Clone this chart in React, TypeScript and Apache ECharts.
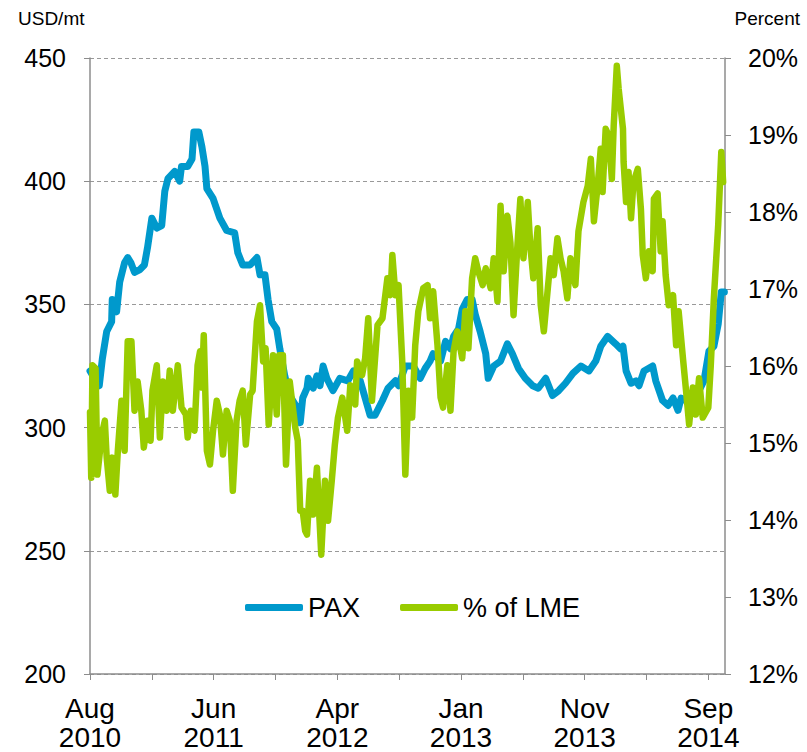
import React, { useEffect, useRef } from "react";
import * as echarts from "echarts";

const tickLabels = ["Aug\n2010", "Jun\n2011", "Apr\n2012", "Jan\n2013", "Nov\n2013", "Sep\n2014"];

// trading-day index from start of Aug 2010
const paxDay = [0,7,15,20,27,35,36,43,48,56,61,66,72,80,88,93,100,108,116,121,126,137,145,148,158,165,168,176,181,186,189,199,210,221,234,239,247,259,270,275,283,288,294,302,307,315,323,335,340,344,351,353,361,367,372,377,383,393,404,417,426,437,445,453,461,473,482,494,499,510,518,523,534,542,550,555,567,575,583,588,596,602,610,618,623,631,640,644,653,664,675,683,693,704,716,725,737,748,758,769,781,794,807,818,826,837,850,858,862,867,875,883,888,896,910,915,926,935,943,951,956,964,972,983,993,1001,1009,1016,1021,1026];
const paxValue = [323,320,317,328,339,343,352,347,359,367,369,367,363,364,366,373,385,381,382,396,401,404,400,406,406,409,420,420,414,406,397,393,385,380,379,371,366,366,369,362,362,352,343,340,332,321,313,308,302,312,316,320,316,321,317,325,320,315,320,319,323,319,312,305,305,311,316,319,317,325,325,325,320,324,327,330,327,335,332,337,340,348,352,352,346,339,330,320,325,327,334,330,324,320,317,316,320,313,315,318,322,325,323,327,333,337,334,332,333,323,318,319,317,323,325,319,311,309,312,307,312,311,311,314,319,331,333,342,355,355];

const lmeDay = [0,2,4,9,12,19,24,27,32,36,41,45,51,56,61,67,72,77,83,87,93,98,101,108,113,118,124,129,134,142,148,155,158,163,169,174,178,181,184,189,194,199,205,210,215,221,226,231,237,242,247,252,259,263,270,275,280,284,289,296,302,306,312,317,323,332,336,340,344,348,351,356,361,367,374,380,385,391,396,401,408,416,421,429,432,440,445,450,456,465,473,481,486,489,494,499,505,510,515,521,526,531,539,546,550,555,562,567,571,578,583,588,594,602,607,612,618,623,628,635,640,648,653,659,664,669,675,680,685,691,696,701,708,712,717,724,729,734,740,745,750,756,761,766,772,777,785,790,798,805,810,815,821,826,829,834,839,844,847,852,855,862,863,867,871,875,879,886,891,894,899,904,910,912,918,923,926,931,936,943,948,952,959,964,969,975,980,985,991,1000,1004,1009,1016,1021,1024];
const lmePct = [15.4,14.55,16.01,15.97,14.59,15.11,15.29,14.81,14.38,14.81,14.33,14.9,15.55,14.9,16.32,16.32,15.42,15.8,15.42,14.94,15.29,15.03,15.68,16.01,15.07,15.8,15.42,15.94,15.42,16.01,15.46,15.37,15.07,15.42,15.16,16.01,16.19,15.72,16.4,14.9,14.72,15.16,15.55,15.37,14.85,15.42,15.29,14.38,15.29,15.55,15.68,14.98,15.63,15.68,16.58,16.79,16.06,16.23,15.24,16.14,15.37,16.14,16.14,14.72,15.8,15.2,15.03,14.12,14.12,13.86,13.81,14.51,14.07,14.68,13.55,14.51,13.99,14.51,14.98,15.33,15.59,15.16,15.75,15.5,16.06,15.88,16.1,16.62,15.55,16.53,16.62,17.14,16.92,17.44,16.92,17.05,16.06,14.59,15.68,15.33,16.27,16.71,17.01,17.05,16.62,16.97,16.27,15.59,15.46,16.01,15.42,16.19,16.45,16.1,16.71,16.23,17.14,17.4,17.23,17.05,17.27,17.01,17.4,16.84,18.08,17.23,17.95,17.6,16.66,17.53,18.17,17.4,18.13,17.57,17.14,17.79,16.79,16.45,16.97,17.4,17.18,17.66,17.4,17.23,16.88,17.4,17.05,17.75,18.13,18.34,18.69,17.88,18.34,18.82,18.26,19.08,18.99,18.43,19.12,19.9,19.6,19.08,18.65,18.13,18.52,17.92,18.39,18.56,18.04,17.44,17.14,17.49,17.23,18.17,18.24,17.49,17.88,17.18,16.79,16.92,16.27,16.71,16.1,15.68,15.24,15.72,15.37,15.84,15.33,15.46,16.01,16.88,17.83,18.78,18.39];

const FONT = "'Liberation Sans', Arial, sans-serif";
const AXIS_GRAY = "#8c8c8c";

export default function App() {
  const ref = useRef<HTMLDivElement>(null);
  useEffect(() => {
    if (!ref.current) return;
    const chart = echarts.init(ref.current, null, { renderer: "svg" });
    const pax = paxDay.map((d, i) => [d, paxValue[i]]);
    const lme = lmeDay.map((d, i) => [d, lmePct[i]]);
    chart.setOption({
      animation: false,
      backgroundColor: "#ffffff",
      textStyle: { fontFamily: FONT },
      grid: { left: 90, right: 82, top: 58, bottom: 75, containLabel: false },
      graphic: [
        { type: "text", left: 18, top: 9, style: { text: "USD/mt", font: `19px ${FONT}`, fill: "#000" } },
        { type: "text", right: 7, top: 9, style: { text: "Percent", font: `19px ${FONT}`, fill: "#000" } },
      ],
      legend: {
        data: ["PAX", "% of LME"],
        left: 240,
        top: 589,
        icon: "roundRect",
        itemWidth: 58,
        itemHeight: 7,
        itemGap: 40,
        textStyle: { fontSize: 27, color: "#000", fontFamily: FONT },
      },
      xAxis: {
        type: "value",
        min: 0,
        max: 1027,
        interval: 100,
        axisLine: { show: true, onZero: false, lineStyle: { color: AXIS_GRAY, width: 1.5 } },
        axisTick: { show: true, length: 6, lineStyle: { color: AXIS_GRAY } },
        splitLine: { show: false },
        axisLabel: {
          margin: 20,
          fontSize: 28,
          lineHeight: 29,
          color: "#000",
          fontFamily: FONT,
          showMaxLabel: false,
          formatter: (v: number) => (v % 200 === 0 ? tickLabels[v / 200] ?? "" : ""),
        },
      },
      yAxis: [
        {
          type: "value",
          min: 200,
          max: 450,
          interval: 50,
          position: "left",
          axisLine: { show: true, lineStyle: { color: AXIS_GRAY, width: 1.5 } },
          axisTick: { show: true, length: 6, lineStyle: { color: AXIS_GRAY } },
          splitLine: { show: true, lineStyle: { color: "#999", type: [4, 3], width: 1 } },
          axisLabel: { margin: 24, fontSize: 25, color: "#000", fontFamily: FONT },
        },
        {
          type: "value",
          min: 12,
          max: 20,
          interval: 1,
          position: "right",
          axisLine: { show: true, lineStyle: { color: AXIS_GRAY, width: 1.5 } },
          axisTick: { show: true, length: 6, lineStyle: { color: AXIS_GRAY } },
          splitLine: { show: false },
          axisLabel: { margin: 23, fontSize: 25, color: "#000", fontFamily: FONT, formatter: "{value}%" },
        },
      ],
      series: [
        {
          name: "PAX",
          type: "line",
          yAxisIndex: 0,
          data: pax,
          showSymbol: false,
          symbol: "none",
          color: "#0099CC",
          lineStyle: { width: 7, color: "#0099CC", join: "round", cap: "round" },
        },
        {
          name: "% of LME",
          type: "line",
          yAxisIndex: 1,
          data: lme,
          showSymbol: false,
          symbol: "none",
          color: "#99CC00",
          lineStyle: { width: 6.5, color: "#99CC00", join: "round", cap: "round" },
        },
      ],
    });
    return () => chart.dispose();
  }, []);
  return (
    <div
      ref={ref}
      style={{ position: "absolute", left: 0, top: 0, width: 807, height: 752 }}
    />
  );
}
